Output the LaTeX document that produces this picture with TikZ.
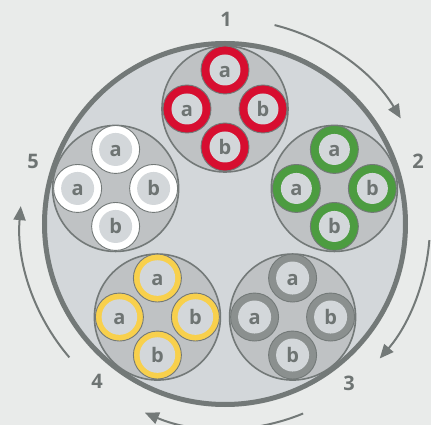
\documentclass[tikz,border=0pt]{standalone}
\usepackage{fontspec}
\setmainfont{Open Sans}
\usepackage{tikz}
\usetikzlibrary{arrows.meta}
\definecolor{bgcol}{HTML}{E9EBEA}
\definecolor{sheath}{HTML}{D3D7DA}
\definecolor{bundle}{HTML}{BFC2C4}
\definecolor{edge}{HTML}{737978}
\definecolor{ink}{HTML}{6E7473}
\definecolor{wred}{HTML}{D70E30}
\definecolor{wgreen}{HTML}{4C9C40}
\definecolor{wwhite}{HTML}{FFFFFF}
\definecolor{wyellow}{HTML}{F8D04C}
\definecolor{wgray}{HTML}{8B908F}

\begin{document}
\begin{tikzpicture}[x=1pt, y=1pt,
    cable/.style={circle, draw=edge, line width=5pt, fill=sheath,
                  minimum size=361pt, inner sep=0pt},
    group/.style={circle, draw=edge, line width=1.6pt, fill=bundle,
                  minimum size=126pt, inner sep=0pt},
    wire/.style 2 args={circle, fill=#1, draw=edge, line width=0.9pt,
                  minimum size=48pt, inner sep=0pt, text=ink,
                  font=\bfseries\fontsize{20}{20}\selectfont,
                  text height=14.5pt, text depth=0pt,
                  path picture={\fill[sheath]
                      (path picture bounding box.center) circle (#2);}},
    num/.style={text=ink, font=\bfseries\fontsize{20}{20}\selectfont},
    turn/.style={-{Triangle[length=14pt, width=12pt]}, line width=2pt, edge}
]

\fill[bgcol] (-225,-201) rectangle (206,224);
\useasboundingbox (-225,-201) rectangle (206,224);

\node[cable] (cable) at (0,0) {};

% five bundles of four wires
\foreach \ang/\col/\inr [count=\i] in {90/wred/15.5, 18/wgreen/15.5,
        -54/wgray/16.5, -126/wyellow/17.8, 162/wwhite/16.5} {
    \node[group] (g\i) at (\ang:115) {};
    \node[wire={\col}{\inr}] (g\i-t) at ([yshift=39pt]g\i.center) {a};
    \node[wire={\col}{\inr}] (g\i-l) at ([xshift=-38pt]g\i.center) {a};
    \node[wire={\col}{\inr}] (g\i-r) at ([xshift=38pt]g\i.center) {b};
    \node[wire={\col}{\inr}] (g\i-b) at ([yshift=-38pt]g\i.center) {b};
}

\node[num] (n1) at (1,205) {1};
\node[num] (n2) at (193,63) {2};
\node[num] (n3) at (124,-159) {3};
\node[num] (n4) at (-128,-157) {4};
\node[num] (n5) at (-192,63) {5};

\coordinate (s1) at (76:205);
\coordinate (s2) at (-4.5:205);
\coordinate (s3) at (-67.6:205);
\coordinate (s4) at (-139.4:205);

\draw[turn] (s1) arc[start angle=76, end angle=31, radius=205];
\draw[turn] (s2) arc[start angle=-4.5, end angle=-41, radius=205];
\draw[turn] (s3) arc[start angle=-67.6, end angle=-113, radius=205];
\draw[turn] (s4) arc[start angle=-139.4, end angle=-185, radius=205];

\end{tikzpicture}
\end{document}
